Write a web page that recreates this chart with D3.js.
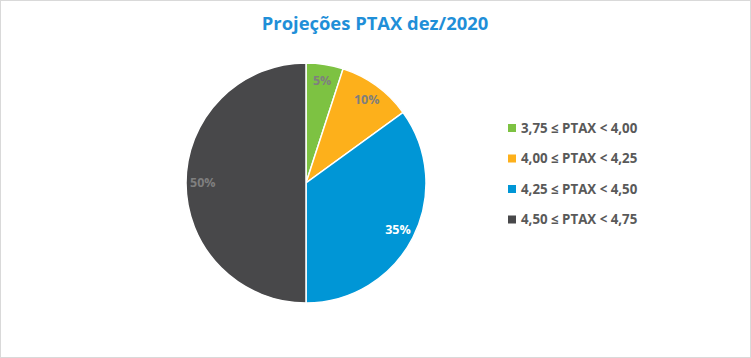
<!DOCTYPE html>
<html><head><meta charset="utf-8">
<script src="https://cdn.jsdelivr.net/npm/d3@7"></script>
<style>body{margin:0;background:#fff}svg{display:block}</style>
</head><body><svg id="c" width="751" height="358"></svg>
<script>
const categories = ["3,75 ≤ PTAX < 4,00","4,00 ≤ PTAX < 4,25","4,25 ≤ PTAX < 4,50","4,50 ≤ PTAX < 4,75"];
const values = [5, 10, 35, 50];
const colors = ["#7dc242","#fdb01b","#0096d6","#48484a"];
const labelColors = ["#7f7f7f","#7f7f7f","#ffffff","#7f7f7f"];
const title = "Projeções PTAX dez/2020";

const svg = d3.select("#c");
const font = "'Open Sans', 'Noto Sans', sans-serif";
svg.append("rect").attr("x",0.5).attr("y",0.5).attr("width",750).attr("height",357)
  .attr("fill","#fff").attr("stroke","#d9d9d9");
svg.append("text").attr("x",375).attr("y",30).attr("text-anchor","middle")
  .attr("font-family",font).attr("font-weight","bold").attr("font-size",18.4)
  .attr("fill","#1f8fd8").text(title);

const cx=306, cy=183, R=120;
const pie = d3.pie().sort(null).value(d=>d)(values);
const arc = d3.arc().innerRadius(0).outerRadius(R);
const larc = d3.arc().innerRadius(R*0.86).outerRadius(R*0.86);
const g = svg.append("g").attr("transform",`translate(${cx},${cy})`);
g.selectAll("path").data(pie).join("path").attr("d",arc)
  .attr("fill",(d,i)=>colors[i]).attr("stroke","#fff").attr("stroke-width",1.5);
g.selectAll("text").data(pie).join("text")
  .attr("transform",d=>`translate(${larc.centroid(d)})`)
  .attr("text-anchor","middle").attr("dy","0.35em")
  .attr("font-family",font).attr("font-weight","bold").attr("font-size",12.5)
  .attr("fill",(d,i)=>labelColors[i]).text(d=>d.data+"%");

const leg = svg.append("g");
categories.forEach((c,i)=>{
  const y = 128 + i*30.5;
  leg.append("rect").attr("x",508).attr("y",y-4).attr("width",8).attr("height",8).attr("fill",colors[i]);
  leg.append("text").attr("x",521).attr("y",y).attr("dy","0.35em")
    .attr("font-family",font).attr("font-weight","bold").attr("font-size",13.3)
    .attr("fill","#595959").text(c);
});
</script></body></html>
